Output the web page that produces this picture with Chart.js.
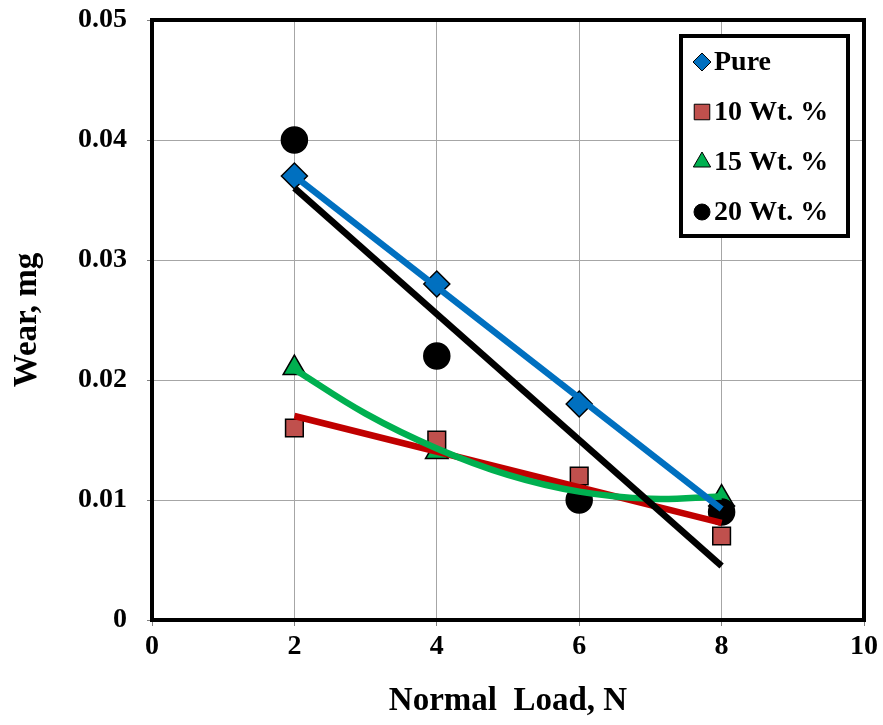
<!DOCTYPE html>
<html>
<head>
<meta charset="utf-8">
<script src="https://cdn.jsdelivr.net/npm/chart.js@4.4.1/dist/chart.umd.min.js"></script>
<style>
  html, body { margin: 0; padding: 0; background: #fff; }
  #wrap { width: 883px; height: 725px; }
</style>
</head>
<body>
<div id="wrap"><canvas id="chart" width="883" height="725"></canvas></div>
<script>
// measured values
const loads = [2, 4, 6, 8]
const pure = [0.037, 0.028, 0.018, 0.0095]
const wt10 = [0.016, 0.015, 0.012, 0.007]
const wt15 = [0.021, 0.014, 0.011, 0.0102]
const wt20 = [0.040, 0.022, 0.010, 0.009]

// trend lines
const lineEnds = [2, 8]
const pureTrend = [0.037, 0.00925]
const wt10Trend = [0.017, 0.0081]
const wt20Trend = [0.036, 0.0045]
const curveX = [2, 3, 4, 5, 6, 7, 8]
const wt15Trend = [0.0209, 0.0172, 0.0143, 0.0121, 0.0107, 0.0101, 0.0103]

const xTicks = [0, 2, 4, 6, 8, 10]
const yTicks = [0, 0.01, 0.02, 0.03, 0.04, 0.05]

const serif = "'Liberation Serif', 'Times New Roman', serif"
const pts = (xs, ys) => xs.map((x, i) => ({ x: x, y: ys[i] }))

const markers = [
  { label: 'Pure', data: pts(loads, pure), pointStyle: 'rectRot', radius: 13, fill: '#0070C0', order: 8, legendRadius: 9 },
  { label: '10 Wt. %', data: pts(loads, wt10), pointStyle: 'rect', radius: 12.5, fill: '#C0504D', order: 6, legendRadius: 11 },
  { label: '15 Wt. %', data: pts(loads, wt15), pointStyle: 'triangle', radius: 13, fill: '#00B050', order: 7, legendRadius: 10 },
  { label: '20 Wt. %', data: pts(loads, wt20), pointStyle: 'circle', radius: 13, fill: '#000000', order: 5, legendRadius: 8 }
]

const trends = [
  { data: pts(lineEnds, pureTrend), color: '#0070C0', order: 1, tension: 0 },
  { data: pts(lineEnds, wt20Trend), color: '#000000', order: 2, tension: 0 },
  { data: pts(curveX, wt15Trend), color: '#00B050', order: 3, tension: 0.4 },
  { data: pts(lineEnds, wt10Trend), color: '#C00000', order: 4, tension: 0 }
]

let datasets = markers.map(m => ({
  label: m.label,
  data: m.data,
  showLine: false,
  pointStyle: m.pointStyle,
  pointRadius: m.radius,
  pointBackgroundColor: m.fill,
  pointBorderColor: '#000',
  pointBorderWidth: 1.5,
  order: m.order
}))
trends.forEach(t => {
  datasets.push({
    label: 'trend',
    data: t.data,
    showLine: true,
    borderColor: t.color,
    borderWidth: 6.5,
    pointRadius: 0,
    tension: t.tension,
    cubicInterpolationMode: 'default',
    order: t.order
  })
})

const frameAndLegend = {
  id: 'frameAndLegend',
  afterDraw(chart) {
    const ctx = chart.ctx
    const a = chart.chartArea
    ctx.save()
    ctx.strokeStyle = '#000'
    ctx.lineWidth = 4
    ctx.strokeRect(a.left, a.top, a.right - a.left, a.bottom - a.top)

    // legend box
    const bx = 681, by = 36, bw = 167, bh = 200
    ctx.fillStyle = '#fff'
    ctx.fillRect(bx, by, bw, bh)
    ctx.lineWidth = 4
    ctx.strokeRect(bx, by, bw, bh)
    ctx.font = 'bold 28px ' + serif
    ctx.textBaseline = 'middle'
    ctx.textAlign = 'left'
    markers.forEach((m, i) => {
      const cy = 62 + i * 50
      ctx.fillStyle = m.fill
      ctx.strokeStyle = '#000'
      ctx.lineWidth = 1
      Chart.helpers.drawPoint(ctx, { pointStyle: m.pointStyle, radius: m.legendRadius, borderWidth: 1 }, 702, cy)
      ctx.fillStyle = '#000'
      ctx.fillText(m.label, 714, cy + 1)
    })
    ctx.restore()
  }
}

new Chart(document.getElementById('chart'), {
  type: 'scatter',
  data: { datasets: datasets },
  options: {
    responsive: false,
    animation: false,
    layout: { padding: { top: 20, right: 19, left: 0, bottom: 0 } },
    plugins: { legend: { display: false }, tooltip: { enabled: false } },
    scales: {
      x: {
        type: 'linear',
        min: 0,
        max: 10,
        afterBuildTicks: s => { s.ticks = xTicks.map(v => ({ value: v })) },
        afterFit: s => { s.height = 105; s.paddingLeft = 0; s.paddingRight = 0 },
        grid: { color: '#A6A6A6', lineWidth: 1, tickLength: 6, tickColor: '#808080' },
        border: { display: false },
        ticks: { color: '#000', padding: 4, font: { family: serif, size: 28, weight: 'bold' } },
        title: {
          display: true,
          text: 'Normal  Load, N',
          color: '#000',
          padding: { top: 0, bottom: 4 },
          font: { family: serif, size: 33, weight: 'bold' }
        }
      },
      y: {
        min: 0,
        max: 0.05,
        afterBuildTicks: s => { s.ticks = yTicks.map(v => ({ value: v })) },
        afterFit: s => { s.width = 152; s.paddingTop = 0; s.paddingBottom = 0 },
        grid: { color: '#A6A6A6', lineWidth: 1, tickLength: 5, tickColor: '#808080' },
        border: { display: false },
        ticks: {
          color: '#000',
          padding: 20,
          font: { family: serif, size: 28, weight: 'bold' },
          callback: v => v === 0 ? '0' : v.toFixed(2)
        },
        title: {
          display: true,
          text: 'Wear, mg',
          color: '#000',
          padding: { top: 8, bottom: 0 },
          font: { family: serif, size: 33, weight: 'bold' }
        }
      }
    }
  },
  plugins: [frameAndLegend]
})
</script>
</body>
</html>
